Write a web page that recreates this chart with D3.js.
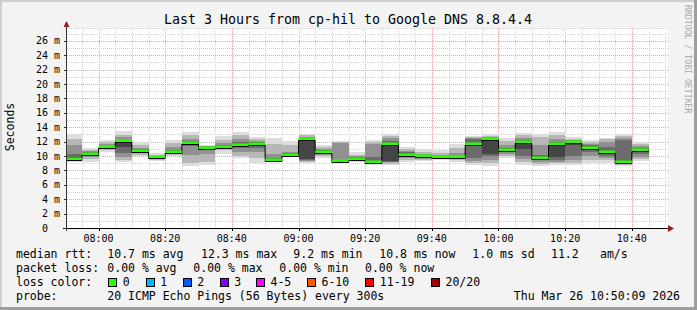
<!DOCTYPE html>
<html><head><meta charset="utf-8">
<script src="https://cdn.jsdelivr.net/npm/d3@7"></script>
<style>
body{margin:0;background:#f3f3f3}
svg{display:block}
text{font-family:"DejaVu Sans Mono",monospace;fill:#000}
</style>
</head><body>
<svg id="c" width="697" height="310"></svg>
<script>
// ---- data ----
const stepTimes = ["07:50","07:55","08:00","08:05","08:10","08:15","08:20","08:25","08:30","08:35",
  "08:40","08:45","08:50","08:55","09:00","09:05","09:10","09:15","09:20","09:25",
  "09:30","09:35","09:40","09:45","09:50","09:55","10:00","10:05","10:10","10:15",
  "10:20","10:25","10:30","10:35","10:40"];
const median = [9.6,10.3,11.2,12.1,10.7,9.8,10.5,11.8,11.1,11.3,11.5,11.7,9.4,10.2,12.3,10.6,9.3,9.6,9.2,11.7,10.2,9.95,9.8,9.85,11.6,12.3,10.8,11.95,9.7,11.6,11.95,11.15,10.5,9.2,10.8];
const p1  = [9.2,9.2,10.5,9.1,10.0,9.3,9.95,8.6,8.7,10.3,9.7,9.0,9.1,9.9,9.0,9.7,9.0,9.1,8.7,8.7,9.2,9.3,9.4,9.2,8.8,8.6,9.7,8.8,8.6,8.7,8.7,9.0,9.0,8.6,9.3];
const p3  = [9.4,9.6,10.8,9.4,10.2,9.5,10.1,9.0,9.2,10.8,10.0,9.7,9.2,10.0,9.2,10.0,9.1,9.3,8.9,8.9,9.5,9.5,9.55,9.4,9.0,9.0,10.0,9.2,8.9,9.0,9.0,9.4,9.4,8.8,9.6];
const p5  = [9.45,9.9,10.95,9.8,10.4,9.6,10.25,10.2,10.3,11.0,10.6,10.6,9.3,10.05,9.35,10.2,9.2,9.4,9.0,9.1,9.7,9.65,9.65,9.55,9.3,9.5,10.3,9.6,9.2,9.2,9.4,10.0,9.7,9.0,9.9];
const p7  = [9.5,10.05,11.05,10.4,10.55,9.7,10.35,11.4,10.8,11.15,11.1,11.1,9.35,10.1,9.5,10.4,9.25,9.5,9.1,9.2,9.9,9.75,9.7,9.7,9.7,10.0,10.5,10.0,9.4,9.4,10.0,10.6,10.0,9.1,10.3];
const p9  = [9.55,10.2,11.15,11.3,10.65,9.75,10.45,11.7,11.0,11.25,11.35,11.5,9.4,10.15,9.65,10.5,9.3,9.55,9.15,9.3,10.05,9.9,9.75,9.8,11.4,10.3,10.7,11.0,9.6,9.8,11.5,11.0,10.3,9.15,10.6];
const p12 = [9.8,10.4,11.3,12.0,10.8,9.85,10.6,11.9,11.15,11.4,11.6,11.8,9.5,10.25,12.4,10.7,9.4,9.7,9.3,11.8,10.3,10.0,9.85,9.9,11.8,12.35,10.9,12.0,9.8,11.7,12.0,11.3,10.7,9.3,10.9];
const p14 = [10.3,10.55,11.45,12.2,10.95,9.95,10.8,12.1,11.25,11.55,11.9,12.0,9.7,10.35,12.55,10.8,9.5,9.8,9.8,12.1,10.5,10.15,9.95,10.05,12.3,12.5,11.1,12.2,10.2,12.0,12.1,11.5,11.3,12.2,11.1];
const p16 = [11.5,10.7,11.6,12.7,11.1,10.05,11.2,12.4,11.35,11.75,12.4,12.15,10.3,10.6,12.7,10.95,11.8,9.95,11.7,12.5,10.7,10.3,10.1,10.4,12.5,12.6,11.5,12.5,11.5,12.4,12.2,11.7,11.9,12.5,11.4];
const p18 = [12.4,10.9,11.9,12.9,11.5,10.2,11.8,12.9,11.45,12.2,12.9,12.35,11.6,11.5,12.85,11.2,12.0,10.2,12.0,12.8,11.0,10.6,10.4,11.1,12.6,12.8,12.1,12.9,12.6,12.9,12.4,11.9,12.3,12.8,11.7];
const p20 = [13.1,11.1,12.2,13.5,11.9,10.4,12.2,13.3,11.5,12.8,13.3,12.6,12.5,12.1,13.0,11.5,12.1,10.5,12.2,13.0,11.25,11.0,10.8,11.6,12.8,13.0,12.5,13.2,13.0,13.3,12.6,12.2,12.5,13.0,12.0];
const yTickValues = [0,2,4,6,8,10,12,14,16,18,20,22,24,26];
const xTickLabels = ["08:00","08:20","08:40","09:00","09:20","09:40","10:00","10:20","10:40"];
const lossLabels = ["0","1","2","3","4-5","6-10","11-19","20/20"];
const lossColors = ["#26ff00","#00b8ff","#0059ff","#7e00ff","#ff00ff","#ff5500","#ff0000","#a00000"];
const rttStats = ["10.7 ms avg","12.3 ms max","9.2 ms min","10.8 ms now","1.0 ms sd","11.2","am/s"];
const lossStats = ["0.00 % avg","0.00 % max","0.00 % min","0.00 % now"];

// ---- chart ----
const svg = d3.select("#c");
const W = 697, H = 310;
const L = 67, R = 668, T = 28, B = 228;
const parse = d3.timeParse("%H:%M");
const start = new Date(+parse("07:50") + 33e3);
const end = new Date(+start + 3 * 3600e3);
const x = d3.scaleTime().domain([start, end]).range([L, 667]);
const y = d3.scaleLinear().domain([0, 27.78]).range([B, T]);
const tStart = stepTimes.map(parse);
const tEnd = tStart.map(d => d3.timeMinute.offset(d, 5));

svg.append("rect").attr("width", W).attr("height", H).attr("fill", "#f3f3f3");
// 3d frame
svg.append("rect").attr("x",0).attr("y",0).attr("width",W).attr("height",2).attr("fill","#cfcfcf");
svg.append("rect").attr("x",0).attr("y",0).attr("width",2).attr("height",H).attr("fill","#cfcfcf");
svg.append("rect").attr("x",W-3).attr("y",0).attr("width",3).attr("height",H).attr("fill","#9e9e9e");
svg.append("rect").attr("x",0).attr("y",H-3).attr("width",W).attr("height",3).attr("fill","#9e9e9e");

svg.append("rect").attr("x", L).attr("y", T).attr("width", R - L).attr("height", B - T).attr("fill", "#fff");

// grid (behind graph)
const grid = svg.append("g").attr("fill","none").attr("stroke-width",1).attr("stroke-dasharray","1,1").attr("shape-rendering","crispEdges");
const minor = d3.timeMinute.every(5).range(start, end);
minor.forEach(t => {
  const major = t.getMinutes() % 20 === 0;
  const xx = Math.round(x(t)) + 0.5;
  grid.append("line").attr("x1",xx).attr("x2",xx).attr("y1",T).attr("y2",B)
    .attr("stroke", major ? "#f0a0a0" : "#d4d4d4");
});
d3.range(1, 28).forEach(v => {
  const yy = Math.round(y(v)) + 0.5;
  grid.append("line").attr("x1",L).attr("x2",R).attr("y1",yy).attr("y2",yy)
    .attr("stroke", v % 2 === 0 ? "#f0a0a0" : "#d4d4d4");
});
grid.append("line").attr("x1",L).attr("x2",R).attr("y1",T+0.5).attr("y2",T+0.5).attr("stroke","#d4d4d4");

svg.append("clipPath").attr("id","pc").append("rect").attr("x",L).attr("y",T).attr("width",R-L).attr("height",B-T);
const g = svg.append("g").attr("clip-path","url(#pc)");

const bands = [[p1,p20,"#dddddd"],[p3,p18,"#b7b7b7"],[p5,p16,"#919191"],[p7,p14,"#6b6b6b"],[p9,p12,"#454545"]];
bands.forEach(([lo, hi, col]) => {
  g.append("g").selectAll("rect").data(stepTimes).join("rect")
    .attr("x", (d,i) => x(tStart[i]))
    .attr("width", (d,i) => x(tEnd[i]) - x(tStart[i]))
    .attr("y", (d,i) => y(hi[i]))
    .attr("height", (d,i) => y(lo[i]) - y(hi[i]))
    .attr("fill", col)
    .attr("shape-rendering","crispEdges");
});

// median black step line
const pts = median.map((m,i) => [tStart[i], m]);
pts.push([tEnd[tEnd.length-1], median[median.length-1]]);
g.append("path")
  .attr("d", d3.line().curve(d3.curveStepAfter).x(d => x(d[0])).y(d => Math.round(y(d[1])) + 1.5)(pts))
  .attr("fill","none").attr("stroke","#000").attr("stroke-width",1);
// loss-coloured median band
g.append("g").selectAll("rect").data(median).join("rect")
  .attr("x", (d,i) => x(tStart[i]))
  .attr("width", (d,i) => x(tEnd[i]) - x(tStart[i]))
  .attr("y", d => Math.round(y(d)) - 1.5)
  .attr("height", 2.5)
  .attr("fill", lossColors[0]);

// axes
const ax = svg.append("g").attr("shape-rendering","crispEdges");
ax.append("line").attr("x1",63).attr("x2",R).attr("y1",B+0.5).attr("y2",B+0.5).attr("stroke","#000");
ax.append("line").attr("x1",L-0.5).attr("x2",L-0.5).attr("y1",T-1).attr("y2",B+3).attr("stroke","#333");
svg.append("path").attr("d",`M${R},${B-3}L${R+6},${B+0.5}L${R},${B+4}Z`).attr("fill","#9b1b1b");
svg.append("path").attr("d",`M${L-3.5},${T-1}L${L-0.5},${T-7}L${L+2.5},${T-1}Z`).attr("fill","#9b1b1b");

yTickValues.forEach(v => {
  const yy = Math.round(y(v)) + 0.5;
  ax.append("line").attr("x1",L-3).attr("x2",L).attr("y1",yy).attr("y2",yy).attr("stroke","#333");
});
svg.append("g").selectAll("text").data(yTickValues).join("text")
  .attr("x", d => d === 0 ? 60 - 2 * 6.02 : 60)
  .attr("y", d => y(d) + 3.6)
  .attr("text-anchor","end").attr("font-size","10px")
  .text(d => d === 0 ? "0" : d + " m");

svg.append("g").selectAll("text").data(xTickLabels).join("text")
  .attr("x", d => x(parse(d)))
  .attr("y", 241.5)
  .attr("text-anchor","middle").attr("font-size","10px")
  .text(d => d);
xTickLabels.forEach(d => {
  const xx = Math.round(x(parse(d))) + 0.5;
  ax.append("line").attr("x1",xx).attr("x2",xx).attr("y1",B).attr("y2",B+3).attr("stroke","#000");
});

// title
svg.append("text").attr("x",348).attr("y",24).attr("text-anchor","middle").attr("font-size","13.3px")
  .text("Last 3 Hours from cp-hil to Google DNS 8.8.4.4");
// y label
svg.append("text").attr("transform","translate(14,127) rotate(-90)").attr("text-anchor","middle").attr("font-size","11.5px")
  .text("Seconds");
// watermark
svg.append("text").attr("transform","translate(685,5) rotate(90)").attr("font-size","8.2px")
  .style("fill","#a8a8a8").text("RRDTOOL / TOBI OETIKER");

// legend
const fs = "11.5px";
const leg = svg.append("g").attr("font-size", fs);
leg.append("text").attr("x",16).attr("y",258).text("median rtt:");
const rttX = [107.3, 201, 293.3, 379.3, 472.3, 551, 600];
rttStats.forEach((s,i) => leg.append("text").attr("x", rttX[i]).attr("y",258).text(s));
leg.append("text").attr("x",16).attr("y",272).text("packet loss:");
const lossX = [107.3, 193.3, 279.3, 365];
lossStats.forEach((s,i) => leg.append("text").attr("x", lossX[i]).attr("y",272).text(s));
leg.append("text").attr("x",16).attr("y",286).text("loss color:");
const boxX = [108.3, 145.7, 182.7, 219.7, 256, 307, 365.3, 431];
lossLabels.forEach((s,i) => {
  leg.append("rect").attr("x", Math.round(boxX[i]) + 0.5).attr("y", 278.5).attr("width", 8).attr("height", 8)
    .attr("fill", lossColors[i]).attr("stroke","#000").attr("stroke-width",1);
  leg.append("text").attr("x", boxX[i] + 14.5).attr("y", 286).text(s);
});
leg.append("text").attr("x",16).attr("y",300).text("probe:");
leg.append("text").attr("x",107.3).attr("y",300).text("20 ICMP Echo Pings (56 Bytes) every 300s");
leg.append("text").attr("x",680).attr("y",300).attr("text-anchor","end").text("Thu Mar 26 10:50:09 2026");
</script>
</body></html>
